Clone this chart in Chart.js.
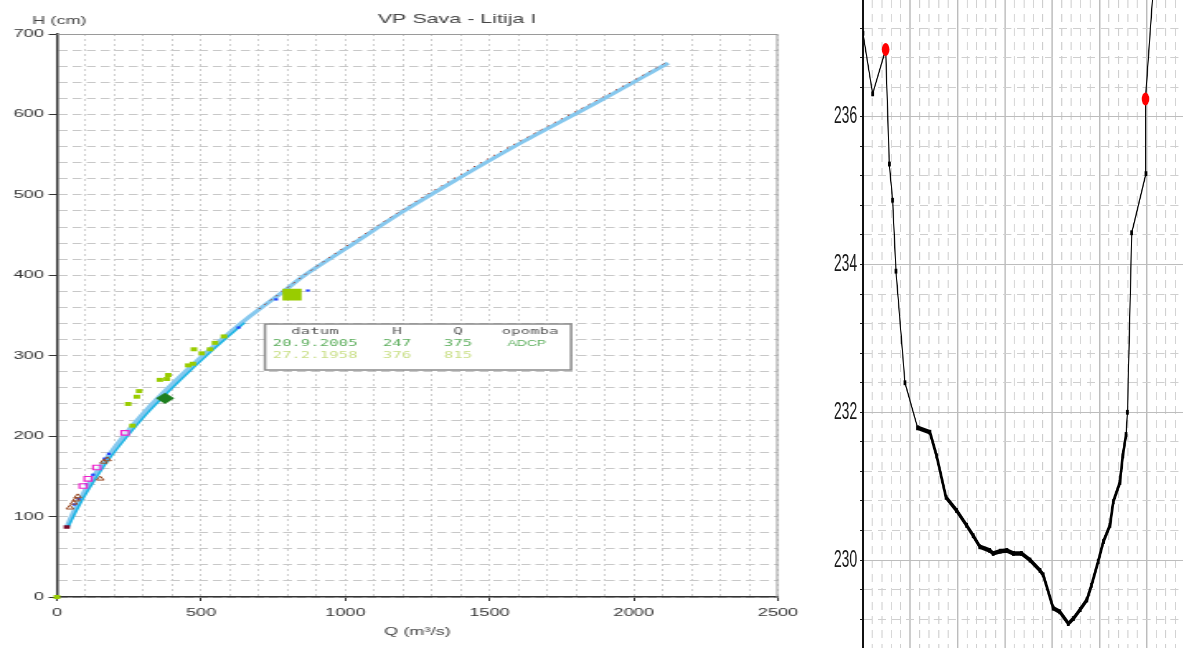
<!DOCTYPE html>
<html>
<head>
<meta charset="utf-8">
<title>VP Sava - Litija I</title>
<script src="https://cdn.jsdelivr.net/npm/chart.js@4.4.1/dist/chart.umd.min.js"></script>
<style>
  html, body { margin: 0; padding: 0; background: #fff; overflow: hidden; }
  body { width: 1183px; height: 648px; position: relative; }
  .wrap { position: absolute; top: 0; height: 648px; transform-origin: 0 0; }
  #pretok { left: 0; width: 503px; transform: scaleX(1.65); }
  #profil { left: 820px; width: 626px; transform: scaleX(0.58); }
</style>
</head>
<body>
<div class="wrap" id="pretok"><canvas id="pretokChart" width="503" height="648"></canvas></div>
<div class="wrap" id="profil"><canvas id="profilChart" width="626" height="648"></canvas></div>
<script>
var naslov = "VP Sava - Litija I";

// pretocna krivulja, Q (m3/s) in H (cm)
var krivuljaQ = [35, 50, 80, 120, 173, 236, 322, 400, 496, 600, 669, 800, 843, 1005, 1189, 1400, 1605, 1883, 2119];
var krivuljaH = [87, 100, 121, 146, 173, 202, 237, 265, 297, 329, 349, 384, 396, 434, 477, 522, 564, 617, 664];

// starejsa krivulja (zgornji del)
var staraQ = [700, 900, 1100, 1300, 1500, 1700, 1900, 2119];
var staraH = [358, 411, 459, 504, 546, 585, 623, 666];

// nizji del, druga krivulja
var nizkaQ = [40, 60, 90, 130, 180, 240, 320, 420, 540, 650];
var nizkaH = [88, 102, 122, 145, 171, 198, 231, 267, 307, 341];

// meritve
var mer1958Q = [0, 247, 262, 277, 285, 357, 381, 386, 455, 471, 475, 502, 531, 548, 579];
var mer1958H = [0, 240, 213, 249, 256, 270, 271, 276, 288, 290, 308, 303, 308, 316, 324];
var merRoza_Q = [91, 108, 138, 236];
var merRoza_H = [138, 147, 161, 204];
var merRjaveQ = [45, 58, 66, 72, 150, 162, 175];
var merRjaveH = [111, 117, 121, 125, 147, 168, 171];
var merModreQ = [0, 60, 75, 100, 125, 165, 180, 630, 760, 870];
var merModreH = [0, 115, 122, 140, 152, 172, 178, 335, 370, 381];
var merTemneQ = [34];
var merTemneH = [87];

// izbrane meritve v tabeli
var tabelaGlava = ["datum", "H", "Q", "opomba"];
var izbDatum = ["20.9.2005", "27.2.1958"];
var izbH = [247, 376];
var izbQ = [375, 815];
var izbOpomba = ["ADCP", ""];

// precni profil
var profilX = [0, 2.05, 4.8, 5.57, 6.27, 6.98, 8.88, 11.56, 14.16, 15.57, 17.55, 19.8, 21.9, 23.3, 24.7, 26.8, 27.5, 29.0, 30.4, 31.8, 33.5, 35.3, 37.4, 38.1, 40.2, 41.6, 43.4, 44.5, 45.9, 47.3, 48.3, 49.7, 50.8, 52.2, 52.9, 54.3, 54.9, 55.6, 55.9, 56.8, 59.8, 59.7, 61.3];
var profilZ = [237.13, 236.31, 236.91, 235.36, 234.87, 233.91, 232.40, 231.79, 231.73, 231.41, 230.85, 230.67, 230.47, 230.33, 230.18, 230.13, 230.09, 230.12, 230.13, 230.09, 230.09, 230.0, 229.86, 229.80, 229.35, 229.30, 229.14, 229.21, 229.33, 229.46, 229.66, 229.98, 230.25, 230.47, 230.79, 231.05, 231.41, 231.70, 232.0, 234.43, 235.23, 236.24, 237.7];
var gladinaX = [4.8, 59.7];
var gladinaZ = [236.91, 236.24];

var barvaTabela = ["#5cae5c", "#c9df86"];

function tocke(xs, ys) {
    var out = [];
    for (var i = 0; i < xs.length; i++) {
        out.push({ x: xs[i], y: ys[i] });
    }
    return out;
}

var pisava = '"Liberation Sans", Arial, sans-serif';
var mono = '"DejaVu Sans Mono", "Liberation Mono", monospace';

var okvir = {
    id: 'okvir',
    afterDraw: function (chart) {
        var c = chart.ctx;
        var a = chart.chartArea;
        c.save();
        c.strokeStyle = '#9a9a9a';
        c.lineWidth = 1;
        c.beginPath();
        c.moveTo(a.left, a.top + 0.5);
        c.lineTo(a.right - 0.5, a.top + 0.5);
        c.lineTo(a.right - 0.5, a.bottom);
        c.stroke();

        c.fillStyle = '#444';
        c.textBaseline = 'middle';
        c.font = '13px ' + pisava;
        c.textAlign = 'center';
        c.fillText(naslov, 277, 19);
        c.font = '11px ' + pisava;
        c.textAlign = 'left';
        c.fillText('H (cm)', 19.5, 21);

        // tabela izbranih meritev
        c.fillStyle = '#fff';
        c.fillRect(160.6, 324, 185.5, 46);
        c.strokeStyle = '#8a8a8a';
        c.lineWidth = 1.5;
        c.strokeRect(160.6, 324, 185.5, 46);
        var stolpci = [190.9, 240.6, 277.6, 321.2];
        c.textAlign = 'center';
        c.font = '9.5px ' + mono;
        c.fillStyle = '#555';
        for (var k = 0; k < tabelaGlava.length; k++) {
            c.fillText(tabelaGlava[k], stolpci[k], 332);
        }
        for (var r = 0; r < izbDatum.length; r++) {
            var y = 343.5 + r * 12.5;
            c.fillStyle = barvaTabela[r];
            c.font = '9.5px ' + mono;
            c.fillText(izbDatum[r], stolpci[0], y);
            c.fillText(String(izbH[r]), stolpci[1], y);
            c.fillText(String(izbQ[r]), stolpci[2], y);
            c.font = '8.5px ' + pisava;
            c.fillText(izbOpomba[r], stolpci[3] - 2, y);
        }
        c.restore();
    }
};

var nic = 'rgba(0,0,0,0)';

new Chart(document.getElementById('pretokChart'), {
    type: 'scatter',
    data: {
        datasets: [
            {
                data: [{ x: izbQ[0], y: izbH[0] }],
                pointStyle: 'rectRot', pointRadius: 5.6,
                backgroundColor: '#1f7f1f', borderColor: '#1f7f1f', borderWidth: 0,
                order: 0, clip: false
            },
            {
                data: [{ x: izbQ[1], y: izbH[1] }],
                pointStyle: 'rect', pointRadius: 8.2,
                backgroundColor: '#99cc00', borderColor: '#99cc00', borderWidth: 0,
                order: 0
            },
            {
                data: tocke(merRoza_Q, merRoza_H),
                pointStyle: 'rect', pointRadius: 3.2,
                backgroundColor: 'rgba(255,255,255,0.6)', borderColor: '#ee22cc', borderWidth: 1.2,
                order: 1
            },
            {
                data: tocke(merRjaveQ, merRjaveH),
                pointStyle: 'triangle', pointRadius: 2.6,
                backgroundColor: nic, borderColor: '#9a4a22', borderWidth: 1,
                order: 1
            },
            {
                data: tocke(mer1958Q, mer1958H),
                pointStyle: 'rect', pointRadius: 2.8,
                backgroundColor: '#99cc00', borderColor: '#99cc00', borderWidth: 0,
                order: 1, clip: false
            },
            {
                data: tocke(merModreQ, merModreH),
                pointStyle: 'rect', pointRadius: 1.6,
                backgroundColor: '#1f3fff', borderColor: '#1f3fff', borderWidth: 0,
                order: 1, clip: false
            },
            {
                data: tocke(merTemneQ, merTemneH),
                pointStyle: 'rect', pointRadius: 2.6,
                backgroundColor: '#7a0a2a', borderColor: '#7a0a2a', borderWidth: 0,
                order: 1
            },
            {
                data: tocke(staraQ, staraH),
                showLine: true, cubicInterpolationMode: 'monotone',
                borderColor: '#a33a2a', borderWidth: 1, borderDash: [1.5, 4],
                pointRadius: 0, order: 2
            },
            {
                data: tocke(nizkaQ, nizkaH),
                showLine: true, cubicInterpolationMode: 'monotone',
                borderColor: '#1cb4e4', borderWidth: 1.6,
                pointRadius: 0, order: 3
            },
            {
                data: tocke(krivuljaQ, krivuljaH),
                showLine: true, cubicInterpolationMode: 'monotone',
                borderColor: '#86c8ee', borderWidth: 3.2,
                pointRadius: 0, order: 4
            }
        ]
    },
    options: {
        responsive: false,
        animation: false,
        events: [],
        layout: { autoPadding: false, padding: { top: 34, right: 31.5, left: 0, bottom: 0 } },
        plugins: { legend: { display: false }, tooltip: { enabled: false } },
        scales: {
            x: {
                type: 'linear', min: 0, max: 2500,
                afterFit: function (s) { s.height = 51; },
                ticks: {
                    stepSize: 100, autoSkip: false, maxRotation: 0, padding: 5,
                    color: '#333', font: { family: pisava, size: 11 },
                    callback: function (v) { return v % 500 === 0 ? v : ''; }
                },
                grid: {
                    color: '#c2c2c2', lineWidth: 0.8, tickLength: 4, tickWidth: 1,
                    tickColor: function (c) { return c.tick && c.tick.value % 500 === 0 ? '#333' : nic; }
                },
                border: { color: '#333', width: 1.5, dash: [2, 3] },
                title: {
                    display: true, text: 'Q (m³/s)', color: '#444',
                    font: { family: pisava, size: 11 }, padding: { top: 0, bottom: 9 }
                }
            },
            y: {
                type: 'linear', min: 0, max: 700,
                afterFit: function (s) { s.width = 34.5; },
                ticks: {
                    stepSize: 20, autoSkip: false, padding: 3,
                    color: '#333', font: { family: pisava, size: 11 },
                    callback: function (v) { return v % 100 === 0 ? v : ''; }
                },
                grid: {
                    color: '#c8c8c8', lineWidth: 1, tickLength: 5, tickWidth: 1,
                    tickColor: function (c) { return c.tick && c.tick.value % 100 === 0 ? '#333' : nic; }
                },
                border: { color: '#333', width: 1.5, dash: [5.5, 3] }
            }
        }
    },
    plugins: [okvir]
});

function jeGlavna(v, korak) {
    var q = v / korak;
    return Math.abs(q - Math.round(q)) < 1e-6;
}

new Chart(document.getElementById('profilChart'), {
    type: 'scatter',
    data: {
        datasets: [
            {
                data: tocke(gladinaX, gladinaZ),
                pointStyle: 'circle', pointRadius: 6.5,
                backgroundColor: '#ff0000', borderColor: '#ff0000', borderWidth: 0,
                order: 0
            },
            {
                data: tocke(profilX, profilZ),
                showLine: true, tension: 0,
                borderColor: '#000', borderWidth: 2,
                segment: {
                    borderWidth: function (c) {
                        var x0 = profilX[c.p0DataIndex], x1 = profilX[c.p1DataIndex];
                        return (x0 >= 11.5 && x1 <= 55.7) ? 4.5 : 2;
                    }
                },
                pointStyle: 'rect', pointRadius: 3.4,
                backgroundColor: '#000', pointBorderWidth: 0,
                order: 1
            }
        ]
    },
    options: {
        responsive: false,
        animation: false,
        events: [],
        layout: { autoPadding: false, padding: 0 },
        plugins: { legend: { display: false }, tooltip: { enabled: false } },
        scales: {
            x: {
                type: 'linear', min: 0, max: 67.65,
                afterFit: function (s) {
                    s.height = 0;
                    s.paddingLeft = 0; s.paddingRight = 0;
                },
                ticks: { display: false, stepSize: 2, autoSkip: false, includeBounds: false },
                grid: {
                    drawTicks: false,
                    color: function (c) { return c.tick && jeGlavna(c.tick.value, 10) ? '#bcbcbc' : '#cdcdcd'; },
                    lineWidth: function (c) { return c.tick && jeGlavna(c.tick.value, 10) ? 2.5 : 1.7; }
                },
                border: {
                    display: false,
                    dash: function (c) { return c.tick && jeGlavna(c.tick.value, 10) ? [] : [8, 6]; }
                }
            },
            y: {
                type: 'linear', min: 228.81, max: 237.58,
                afterFit: function (s) {
                    s.width = 74;
                    s.paddingTop = 0; s.paddingBottom = 0;
                },
                ticks: {
                    stepSize: 0.4, autoSkip: false, includeBounds: false, padding: 5,
                    color: '#1a1a1a', font: { family: pisava, size: 24 },
                    callback: function (v) { return jeGlavna(v, 2) ? String(Math.round(v)) : ''; }
                },
                grid: {
                    color: function (c) { return c.tick && jeGlavna(c.tick.value, 2) ? '#bdbdbd' : '#cfcfcf'; },
                    lineWidth: 1, tickLength: 5, tickWidth: 1, tickColor: '#222'
                },
                border: {
                    color: '#111', width: 4,
                    dash: function (c) { return c.tick && jeGlavna(c.tick.value, 2) ? [] : [14, 10]; }
                }
            }
        }
    }
});
</script>
</body>
</html>
